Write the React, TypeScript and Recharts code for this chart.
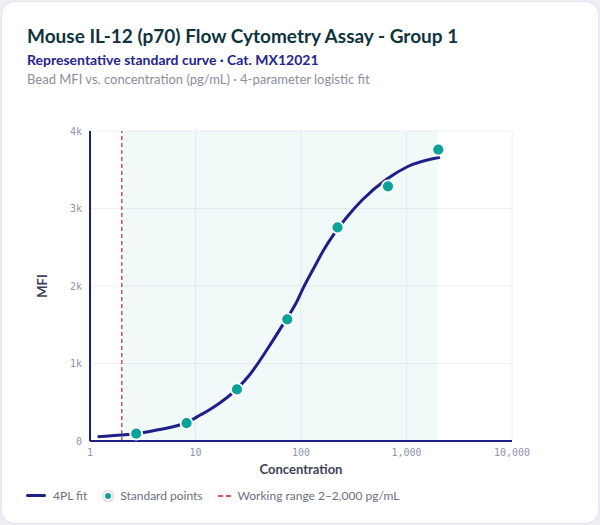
import {
  CartesianGrid,
  ComposedChart,
  Line,
  ReferenceArea,
  ReferenceLine,
  Scatter,
  XAxis,
  YAxis,
} from "recharts"

// 3-fold dilution standards, bead MFI
const STD_CONC = [2.74, 8.23, 24.7, 74.1, 222, 667, 2000]
const STD_MFI = [94, 230, 665, 1570, 2757, 3286, 3759]

// 4PL fit
const FIT_CONC = [1.18, 2, 2.74, 4.3, 8.16, 11.1, 14.8, 24.4, 33.1, 47.7, 66.2, 91.8, 106, 132, 164, 205, 274, 380, 647, 1018, 2075]
const FIT_MFI = [55, 77, 95, 142, 236, 335, 435, 667, 865, 1180, 1485, 1805, 1985, 2228, 2465, 2670, 2894, 3110, 3377, 3539, 3661]

const X_TICKS = [1, 10, 100, 1000, 10000]
const Y_TICKS = [0, 1000, 2000, 3000, 4000]
const RANGE = [2, 2000]

const standards = STD_CONC.map((x, i) => ({ x, y: STD_MFI[i] }))
const fit = FIT_CONC.map((x, i) => ({ x, y: FIT_MFI[i] }))

const NAVY = "#1f1f8a"
const TEAL = "#0aa39a"
const RED = "#d2545a"
const TICK = { fill: "#8e94ab", fontSize: 10, fontFamily: "DejaVu Sans Mono" }
const FONT = "Lato, 'Noto Sans', sans-serif"

function Dot(props: any) {
  const { cx, cy } = props
  if (cx == null || cy == null) return null
  return <circle cx={cx} cy={cy} r={6} fill={TEAL} stroke="#fff" strokeWidth={1.8} />
}

function Legend() {
  return (
    <div style={{ position: "absolute", left: 26, top: 488, display: "flex", alignItems: "center", fontSize: 12, color: "#6b7080" }}>
      <span style={{ width: 20, height: 3, background: NAVY, borderRadius: 2, marginRight: 7 }} />
      <span style={{ marginRight: 16 }}>4PL fit</span>
      <span
        style={{
          width: 6,
          height: 6,
          borderRadius: "50%",
          background: TEAL,
          border: "2px solid #fff",
          boxShadow: "0 0 0 1px #cfd4de",
          marginRight: 7,
        }}
      />
      <span style={{ marginRight: 15 }}>Standard points</span>
      <svg width={13} height={4} style={{ marginRight: 7 }}>
        <line x1={0} y1={2} x2={13} y2={2} stroke={RED} strokeWidth={2} strokeDasharray="5 3" />
      </svg>
      <span>Working range 2–2,000 pg/mL</span>
    </div>
  )
}

export default function App() {
  return (
    <div style={{ position: "relative", width: 600, height: 525, background: "#eceef4", fontFamily: FONT }}>
      <style>{"body{margin:0}"}</style>
      <div
        style={{
          position: "absolute",
          left: 1,
          top: 1,
          width: 596,
          height: 521,
          background: "#fff",
          border: "1px solid #e3e5ee",
          borderRadius: 14,
        }}
      />
      <div style={{ position: "absolute", left: 27, top: 24, fontSize: 19, fontWeight: 700, color: "#0f3440", whiteSpace: "nowrap" }}>
        Mouse IL-12 (p70) Flow Cytometry Assay - Group 1
      </div>
      <div style={{ position: "absolute", left: 27, top: 51, fontSize: 14, fontWeight: 700, color: "#25258f", whiteSpace: "nowrap" }}>
        Representative standard curve · Cat. MX12021
      </div>
      <div style={{ position: "absolute", left: 27, top: 71, fontSize: 13, color: "#8a8f9c", whiteSpace: "nowrap" }}>
        Bead MFI vs. concentration (pg/mL) · 4-parameter logistic fit
      </div>

      <div style={{ position: "absolute", left: 0, top: 100 }}>
        <ComposedChart width={560} height={400} margin={{ top: 31, right: 48, bottom: 19, left: 40 }}>
          <CartesianGrid stroke="#edf0f5" />
          <XAxis
            dataKey="x"
            type="number"
            scale="log"
            domain={[1, 10000]}
            ticks={X_TICKS}
            allowDataOverflow
            tick={TICK}
            tickLine={false}
            axisLine={{ stroke: NAVY, strokeWidth: 2 }}
            tickFormatter={(v: number) => v.toLocaleString("en-US")}
            height={40}
            label={{ value: "Concentration", position: "insideBottom", offset: 7, fill: "#3d4256", fontSize: 13, fontWeight: 700 }}
          />
          <YAxis
            dataKey="y"
            type="number"
            domain={[0, 4000]}
            ticks={Y_TICKS}
            tick={TICK}
            tickLine={false}
            axisLine={{ stroke: NAVY, strokeWidth: 2 }}
            tickFormatter={(v: number) => (v === 0 ? "0" : `${v / 1000}k`)}
            width={50}
            label={{ value: "MFI", angle: -90, position: "insideLeft", offset: 2, fill: "#3d4256", fontSize: 13, fontWeight: 700, style: { textAnchor: "middle" } }}
          />
          <ReferenceArea x1={RANGE[0]} x2={RANGE[1]} y1={0} y2={4000} fill={TEAL} fillOpacity={0.06} stroke="none" />
          <ReferenceLine x={RANGE[0]} stroke={RED} strokeWidth={1.5} strokeDasharray="4 3" />
          <Line data={fit} dataKey="y" type="monotone" stroke={NAVY} strokeWidth={3} dot={false} isAnimationActive={false} />
          <Scatter data={standards} dataKey="y" shape={Dot} isAnimationActive={false} />
        </ComposedChart>
      </div>
      <Legend />
    </div>
  )
}
